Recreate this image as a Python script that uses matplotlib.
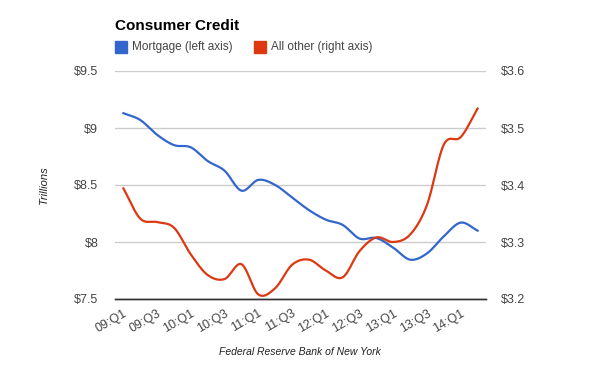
#!/usr/bin/env python3
"""Consumer credit: mortgage vs all other debt, dual axis line chart."""

import numpy as np
import matplotlib
matplotlib.use('Agg')
import matplotlib.pyplot as plt
from matplotlib.patches import Rectangle

plt.rcParams['font.family'] = ['Liberation Sans', 'DejaVu Sans']

# quarters 09:Q1 .. 14:Q2
quarters = [f'{y:02d}:Q{q}' for y in range(9, 15) for q in range(1, 5)][:22]
tick_labels = quarters[::2]

mortgage = [9.13, 9.07, 8.94, 8.85, 8.83, 8.71, 8.625, 8.45, 8.545, 8.50, 8.39,
            8.28, 8.196, 8.15, 8.03, 8.035, 7.95, 7.845, 7.90, 8.05, 8.17, 8.10]
all_other = [3.394, 3.341, 3.335, 3.325, 3.278, 3.242, 3.235, 3.261, 3.208, 3.219,
             3.26, 3.269, 3.25, 3.238, 3.284, 3.308, 3.30, 3.313, 3.365, 3.471,
             3.484, 3.534]

BLUE = '#3366CC'
RED = '#DC3912'
TEXT = '#444444'


def smooth(y, steps=24):
    """Catmull-Rom curve through the points (drawing only, like curveType function)."""
    y = np.asarray(y, dtype=float)
    n = len(y)
    m = np.empty(n)
    m[1:-1] = 0.5 * (y[2:] - y[:-2])
    m[0] = y[1] - y[0]
    m[-1] = y[-1] - y[-2]
    t = np.linspace(0, 1, steps, endpoint=False)
    h00 = 2 * t**3 - 3 * t**2 + 1
    h10 = t**3 - 2 * t**2 + t
    h01 = -2 * t**3 + 3 * t**2
    h11 = t**3 - t**2
    xs, ys = [], []
    for i in range(n - 1):
        xs.append(i + t)
        ys.append(h00 * y[i] + h10 * m[i] + h01 * y[i + 1] + h11 * m[i + 1])
    xs.append([n - 1])
    ys.append([y[-1]])
    return np.concatenate(xs), np.concatenate(ys)


fig = plt.figure(figsize=(6, 3.71), dpi=100)
ax = fig.add_axes([115 / 600, 72 / 371, 371 / 600, 228 / 371])
ax2 = ax.twinx()

sx, sy = smooth(mortgage)
ax.plot(sx, sy, color=BLUE, lw=1.6)
sx, sy = smooth(all_other)
ax2.plot(sx, sy, color=RED, lw=1.6)

ax.set_xlim(-0.5, len(quarters) - 0.5)
ax.set_ylim(7.5, 9.5)
ax2.set_ylim(3.2, 3.6)

ax.set_yticks([7.5, 8, 8.5, 9, 9.5])
ax.set_yticklabels(['$7.5', '$8', '$8.5', '$9', '$9.5'])
ax2.set_yticks([3.2, 3.3, 3.4, 3.5, 3.6])
ax2.set_yticklabels(['$3.2', '$3.3', '$3.4', '$3.5', '$3.6'])
ax.grid(axis='y', color='#cccccc', lw=1)
ax.set_axisbelow(True)

ax.set_xticks(range(0, len(quarters), 2))
ax.set_xticklabels(tick_labels, rotation=30, ha='right', va='top',
                   rotation_mode='anchor')

for a in (ax, ax2):
    for s in ('top', 'left', 'right'):
        a.spines[s].set_visible(False)
    a.spines['bottom'].set_color('#333333')
    a.spines['bottom'].set_linewidth(1.0)
    a.tick_params(length=0, labelsize=9, labelcolor=TEXT)
ax.tick_params(axis='y', pad=12)
ax2.tick_params(axis='y', pad=11)
ax.tick_params(axis='x', pad=6)

ax.set_ylabel('Trillions', style='italic', fontsize=8, color='#222222',
              labelpad=18)
fig.text(300 / 600, 1 - 352 / 371, 'Federal Reserve Bank of New York',
         style='italic', fontsize=7.5, color='#222222', ha='center',
         va='center')

# title and legend
fig.text(115 / 600, 1 - 26 / 371, 'Consumer Credit', fontsize=11,
         fontweight='bold', color='black', ha='left', va='center')
for x0, col, label in [(115, BLUE, 'Mortgage (left axis)'),
                       (254, RED, 'All other (right axis)')]:
    fig.patches.append(Rectangle((x0 / 600, 1 - 53 / 371), 12 / 600, 12 / 371,
                                 transform=fig.transFigure, color=col))
    fig.text((x0 + 17) / 600, 1 - 47 / 371, label, fontsize=8.5,
             color=TEXT, ha='left', va='center')

fig.savefig('out.png', dpi=100)
